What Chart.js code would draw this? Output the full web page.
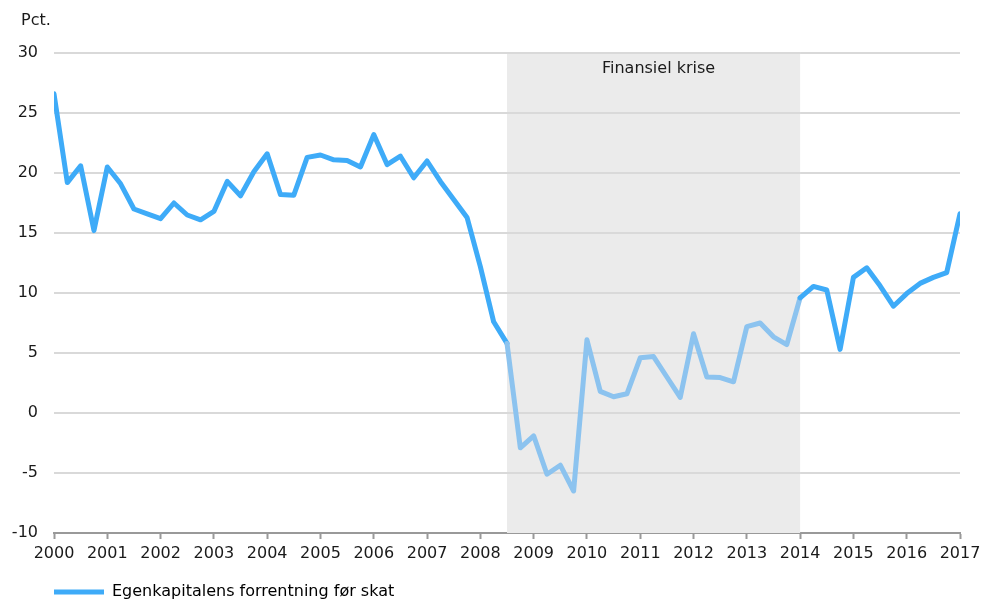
<!DOCTYPE html>
<html>
<head>
<meta charset="utf-8">
<script src="https://cdn.jsdelivr.net/npm/chart.js@4/dist/chart.umd.min.js"></script>
<style>
  html, body { margin: 0; padding: 0; background: #fff; overflow: hidden; }
  canvas { display: block; }
</style>
</head>
<body>
<canvas id="c" width="981" height="610"></canvas>
<script>
// ---- data ----
const seriesName = 'Egenkapitalens forrentning før skat';
const unitLabel = 'Pct.';
const startYear = 2000;             // first quarter of the series (quarterly data)
const yearTicks = [2000, 2001, 2002, 2003, 2004, 2005, 2006, 2007, 2008, 2009, 2010, 2011, 2012, 2013, 2014, 2015, 2016, 2017];
const yTicks = [-10, -5, 0, 5, 10, 15, 20, 25, 30];
const values = [
  26.6, 19.2, 20.6, 15.2,
  20.5, 19.1, 17.0, 16.6,
  16.2, 17.5, 16.5, 16.1,
  16.8, 19.3, 18.1, 20.1,
  21.6, 18.2, 18.15, 21.3,
  21.5, 21.1, 21.05, 20.5,
  23.2, 20.7, 21.4, 19.6,
  21.0, 19.3, 17.8, 16.3,
  12.2, 7.6, 5.8, -2.9,
  -1.9, -5.1, -4.35, -6.5,
  6.1, 1.8, 1.35, 1.6,
  4.6, 4.7, 3.0, 1.3,
  6.6, 3.0, 2.95, 2.6,
  7.2, 7.5, 6.35, 5.7,
  9.6, 10.55, 10.25, 5.3,
  11.3, 12.1, 10.6, 8.9,
  9.95, 10.8, 11.3, 11.7,
  16.6
];
const crisisLabel = 'Finansiel krise';
const crisisStart = 2008.5;
const crisisEnd = 2014;

// ---- styles ----
const FONT = "'DejaVu Sans', Verdana, sans-serif";
const FS = 16;
const lineColor = '#3eabf8';
const crisisLineColor = '#8cc3ef';
const bandColor = '#ebebeb';
const gridColor = '#d9d9d9';
const textColor = '#1a1a1a';

const points = values.map((v, i) => ({ x: startYear + i / 4, y: v }));

const bandPlugin = {
  id: 'band',
  beforeDatasetsDraw(chart) {
    const { ctx, chartArea, scales } = chart;
    const x0 = scales.x.getPixelForValue(crisisStart);
    const x1 = scales.x.getPixelForValue(crisisEnd);
    ctx.save();
    ctx.fillStyle = bandColor;
    ctx.fillRect(x0, chartArea.top - 1, x1 - x0, chartArea.bottom - chartArea.top + 1);
    ctx.strokeStyle = gridColor;
    ctx.lineWidth = 2;
    yTicks.forEach(t => {
      if (t === yTicks[0]) return;
      const y = Math.round(scales.y.getPixelForValue(t));
      ctx.beginPath();
      ctx.moveTo(x0, y);
      ctx.lineTo(x1, y);
      ctx.stroke();
    });
    ctx.fillStyle = textColor;
    ctx.font = FS + 'px ' + FONT;
    ctx.textAlign = 'center';
    ctx.textBaseline = 'middle';
    ctx.fillText(crisisLabel, (x0 + x1) / 2 + 5, chartArea.top + 16);
    ctx.restore();
  },
  afterDraw(chart) {
    const { ctx } = chart;
    ctx.save();
    ctx.fillStyle = textColor;
    ctx.font = FS + 'px ' + FONT;
    ctx.textAlign = 'left';
    ctx.textBaseline = 'middle';
    ctx.fillText(unitLabel, 21, 21);
    ctx.restore();
  }
};

new Chart(document.getElementById('c'), {
  type: 'line',
  data: {
    datasets: [{
      label: seriesName,
      data: points,
      borderColor: lineColor,
      backgroundColor: lineColor,
      borderWidth: 5,
      pointRadius: 0,
      tension: 0,
      borderJoinStyle: 'round',
      borderCapStyle: 'round',
      segment: {
        borderColor: c => (c.p0.parsed.x >= crisisStart && c.p1.parsed.x <= crisisEnd) ? crisisLineColor : lineColor
      }
    }]
  },
  options: {
    responsive: false,
    animation: false,
    devicePixelRatio: 1,
    layout: { padding: { top: 53, left: 0, right: 21, bottom: 0 } },
    plugins: {
      legend: {
        position: 'bottom',
        align: 'start',
        fullSize: false,
        labels: {
          boxWidth: 50,
          boxHeight: 5,
          padding: 0,
          color: textColor,
          font: { family: FONT, size: FS },
          generateLabels: chart => [{
            text: seriesName,
            fillStyle: lineColor,
            strokeStyle: lineColor,
            lineWidth: 0,
            datasetIndex: 0
          }]
        }
      },
      tooltip: { enabled: false }
    },
    scales: {
      x: {
        type: 'linear',
        min: yearTicks[0],
        max: yearTicks[yearTicks.length - 1],
        afterBuildTicks: s => { s.ticks = yearTicks.map(v => ({ value: v })); },
        afterFit: s => { s.height = 51; s.paddingRight = 0; s.paddingLeft = 0; },
        ticks: {
          color: textColor,
          font: { family: FONT, size: FS },
          padding: 5,
          maxRotation: 0,
          autoSkip: false,
          callback: v => String(v)
        },
        grid: {
          drawOnChartArea: false,
          drawTicks: true,
          tickLength: 6,
          tickWidth: 2,
          color: '#999999'
        },
        border: { display: true, color: '#999999', width: 2 }
      },
      y: {
        min: yTicks[0],
        max: yTicks[yTicks.length - 1],
        afterBuildTicks: s => { s.ticks = yTicks.map(v => ({ value: v })); },
        afterFit: s => { s.width = 54; },
        ticks: {
          color: textColor,
          font: { family: FONT, size: FS },
          padding: 16,
          callback: v => String(v)
        },
        grid: { color: gridColor, lineWidth: 2, drawTicks: false },
        border: { display: false }
      }
    }
  },
  plugins: [bandPlugin]
});
</script>
</body>
</html>
